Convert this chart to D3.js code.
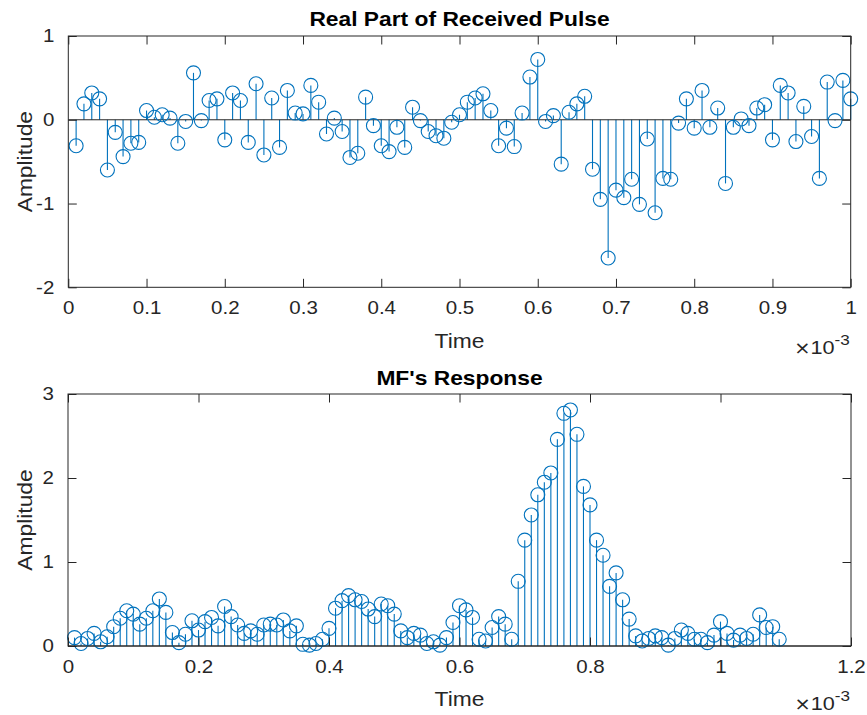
<!DOCTYPE html>
<html>
<head>
<meta charset="utf-8">
<script src="https://cdn.jsdelivr.net/npm/d3@7"></script>
<style>
  html, body { margin: 0; padding: 0; background: #fff; }
  svg { display: block; }
  text { font-family: "Liberation Sans", Arial, Helvetica, sans-serif; fill: #262626; }
</style>
</head>
<body>
<svg id="chart" width="867" height="715"></svg>
<script>
// Real part of the received pulse, one sample every 0.01 ms (samples 1..100)
const pulseValues = [
  -0.31, 0.19, 0.32, 0.25, -0.60, -0.15, -0.44, -0.28, -0.27, 0.11,
   0.03, 0.06, 0.02, -0.28, -0.02, 0.56, -0.01, 0.23, 0.25, -0.24,
   0.32, 0.23, -0.27, 0.43, -0.42, 0.26, -0.33, 0.35, 0.08, 0.07,
   0.41, 0.21, -0.17, 0.02, -0.14, -0.45, -0.40, 0.27, -0.07, -0.31,
  -0.38, -0.09, -0.33, 0.15, -0.01, -0.14, -0.19, -0.22, -0.03, 0.06,
   0.21, 0.26, 0.31, 0.11, -0.31, -0.10, -0.32, 0.08, 0.51, 0.72,
  -0.02, 0.05, -0.53, 0.09, 0.19, 0.28, -0.59, -0.95, -1.65, -0.84,
  -0.93, -0.71, -1.01, -0.23, -1.11, -0.70, -0.71, -0.04, 0.25, -0.10,
   0.35, -0.09, 0.14, -0.76, -0.09, 0.01, -0.07, 0.14, 0.18, -0.24,
   0.41, 0.32, -0.26, 0.16, -0.20, -0.70, 0.45, -0.01, 0.47, 0.25
];

// Matched-filter output magnitude (samples 1..109)
const mfValues = [
  0.10, 0.03, 0.09, 0.15, 0.05, 0.11, 0.23, 0.33, 0.42, 0.38,
  0.26, 0.33, 0.42, 0.56, 0.40, 0.16, 0.04, 0.14, 0.30, 0.19,
  0.29, 0.34, 0.24, 0.47, 0.35, 0.25, 0.15, 0.18, 0.14, 0.25,
  0.26, 0.25, 0.31, 0.18, 0.24, 0.02, 0.01, 0.03, 0.08, 0.21,
  0.45, 0.54, 0.60, 0.55, 0.53, 0.44, 0.35, 0.50, 0.48, 0.38,
  0.18, 0.10, 0.15, 0.13, 0.03, 0.05, 0.01, 0.10, 0.28, 0.48,
  0.43, 0.34, 0.08, 0.06, 0.22, 0.35, 0.26, 0.08, 0.77, 1.26,
  1.56, 1.80, 1.95, 2.06, 2.46, 2.77, 2.81, 2.52, 1.90, 1.68,
  1.26, 1.08, 0.71, 0.87, 0.55, 0.32, 0.12, 0.06, 0.09, 0.12,
  0.10, 0.01, 0.09, 0.19, 0.15, 0.08, 0.08, 0.04, 0.13, 0.29,
  0.15, 0.07, 0.13, 0.09, 0.14, 0.37, 0.22, 0.23, 0.08
];

// Sample spacing in milliseconds (axis shown in units of 1e-3 s)
const sampleStep = 0.01;

const pulseXTicks = [0, 0.1, 0.2, 0.3, 0.4, 0.5, 0.6, 0.7, 0.8, 0.9, 1];
const pulseXTickLabels = ["0", "0.1", "0.2", "0.3", "0.4", "0.5", "0.6", "0.7", "0.8", "0.9", "1"];
const pulseYTicks = [-2, -1, 0, 1];
const pulseYTickLabels = ["-2", "-1", "0", "1"];

const mfXTicks = [0, 0.2, 0.4, 0.6, 0.8, 1, 1.2];
const mfXTickLabels = ["0", "0.2", "0.4", "0.6", "0.8", "1", "1.2"];
const mfYTicks = [0, 1, 2, 3];
const mfYTickLabels = ["0", "1", "2", "3"];

const titles = ["Real Part of Received Pulse", "MF's Response"];
const xLabel = "Time";
const yLabel = "Amplitude";

// ---- styling ----
const STEM = "#0072BD";
const AXC = "#262626";
const SX = 1.14;        // horizontal text stretch
const TICK_FS = 18;
const LABEL_FS = 20;
const TITLE_FS = 20;
const TICK_LEN = 8.5;
const FONT = '"Liberation Sans", Arial, Helvetica, sans-serif';

const svg = d3.select("#chart");

function stretchText(g, x, y, str, opts = {}) {
  const t = g.append("text")
    .attr("transform", `translate(${x},${y}) rotate(${opts.rotate || 0}) scale(${SX},1)`)
    .attr("text-anchor", opts.anchor || "middle")
    .style("font-family", FONT)
    .style("font-size", (opts.size || LABEL_FS) + "px")
    .style("font-weight", opts.bold ? "bold" : "normal");
  if (opts.fill) t.style("fill", opts.fill);
  t.text(str);
  return t;
}

// axis multiplier "×10^-3"
function exponentLabel(g, x, y) {
  const t = g.append("text")
    .attr("transform", `translate(${x},${y}) scale(${SX},1)`)
    .attr("text-anchor", "end")
    .style("font-family", FONT)
    .style("font-size", "19px");
  t.append("tspan").style("font-family", '"DejaVu Sans", sans-serif')
    .style("font-size", "17px").text("\u00D7");
  t.append("tspan").text("10");
  t.append("tspan").attr("dy", -9).style("font-size", "15px").text("-3");
}

function drawPanel(cfg) {
  const { box, xDomain, yDomain, values, xTicks, xTickLabels, yTicks, yTickLabels,
          title, titleY, xLabelY, expY, baseline } = cfg;
  const x = d3.scaleLinear().domain(xDomain).range([box.x0, box.x1]);
  const y = d3.scaleLinear().domain(yDomain).range([box.y1, box.y0]);
  const g = svg.append("g");

  g.append("rect")
    .attr("x", box.x0).attr("y", box.y0)
    .attr("width", box.x1 - box.x0).attr("height", box.y1 - box.y0)
    .attr("fill", "#fff");

  const pts = values.map((v, i) => ({ t: (i + 1) * sampleStep, v }));

  // stems
  g.append("g").selectAll("line").data(pts).join("line")
    .attr("x1", d => x(d.t)).attr("x2", d => x(d.t))
    .attr("y1", y(0)).attr("y2", d => y(d.v))
    .attr("stroke", STEM).attr("stroke-width", 1.1);

  // baseline at zero
  if (baseline) {
    g.append("line")
      .attr("x1", box.x0).attr("x2", box.x1)
      .attr("y1", y(0)).attr("y2", y(0))
      .attr("stroke", AXC).attr("stroke-width", 1);
  }

  // markers
  g.append("g").selectAll("circle").data(pts).join("circle")
    .attr("cx", d => x(d.t)).attr("cy", d => y(d.v))
    .attr("r", 7)
    .attr("fill", "none").attr("stroke", STEM).attr("stroke-width", 1.1);

  // inward ticks on all four sides
  const fmtX = d => xTickLabels[xTicks.indexOf(d)];
  const fmtY = d => yTickLabels[yTicks.indexOf(d)];

  const gb = g.append("g").attr("transform", `translate(0,${box.y1})`)
    .call(d3.axisBottom(x).tickValues(xTicks).tickFormat(fmtX)
      .tickSizeInner(-TICK_LEN).tickSizeOuter(0).tickPadding(14));
  const gt = g.append("g").attr("transform", `translate(0,${box.y0})`)
    .call(d3.axisTop(x).tickValues(xTicks).tickFormat("")
      .tickSizeInner(-TICK_LEN).tickSizeOuter(0));
  const gl = g.append("g").attr("transform", `translate(${box.x0},0)`)
    .call(d3.axisLeft(y).tickValues(yTicks).tickFormat(fmtY)
      .tickSizeInner(-TICK_LEN).tickSizeOuter(0).tickPadding(14));
  const gr = g.append("g").attr("transform", `translate(${box.x1},0)`)
    .call(d3.axisRight(y).tickValues(yTicks).tickFormat("")
      .tickSizeInner(-TICK_LEN).tickSizeOuter(0));

  [gb, gt, gl, gr].forEach(a => {
    a.select(".domain").remove();
    a.selectAll(".tick line").attr("stroke", AXC).attr("stroke-width", 1);
    a.selectAll("text").style("font-size", TICK_FS + "px").style("fill", AXC)
      .style("font-family", FONT);
  });
  gb.selectAll(".tick text").attr("transform", `scale(${SX},1)`);
  gl.selectAll(".tick text").each(function () {
    const el = d3.select(this);
    const px = +el.attr("x");
    el.attr("x", 0).attr("transform", `translate(${px},0) scale(${SX},1)`);
  });

  // box
  g.append("rect")
    .attr("x", box.x0).attr("y", box.y0)
    .attr("width", box.x1 - box.x0).attr("height", box.y1 - box.y0)
    .attr("fill", "none").attr("stroke", AXC).attr("stroke-width", 1);

  // labels
  stretchText(g, (box.x0 + box.x1) / 2, titleY, title, { bold: true, fill: "#000", size: TITLE_FS });
  stretchText(g, (box.x0 + box.x1) / 2, xLabelY, xLabel, {});
  stretchText(g, 32, (box.y0 + box.y1) / 2, yLabel, { rotate: -90 });
  exponentLabel(g, box.x1 - 1, expY);
}

drawPanel({
  box: { x0: 68.3, x1: 850.7, y0: 36, y1: 287.3 },
  xDomain: [0, 1], yDomain: [-2, 1],
  values: pulseValues,
  xTicks: pulseXTicks, xTickLabels: pulseXTickLabels,
  yTicks: pulseYTicks, yTickLabels: pulseYTickLabels,
  title: titles[0], titleY: 26, xLabelY: 348, expY: 354,
  baseline: true
});

drawPanel({
  box: { x0: 68, x1: 851, y0: 394, y1: 646 },
  xDomain: [0, 1.2], yDomain: [0, 3],
  values: mfValues,
  xTicks: mfXTicks, xTickLabels: mfXTickLabels,
  yTicks: mfYTicks, yTickLabels: mfYTickLabels,
  title: titles[1], titleY: 385, xLabelY: 706, expY: 710,
  baseline: true
});
</script>
</body>
</html>
